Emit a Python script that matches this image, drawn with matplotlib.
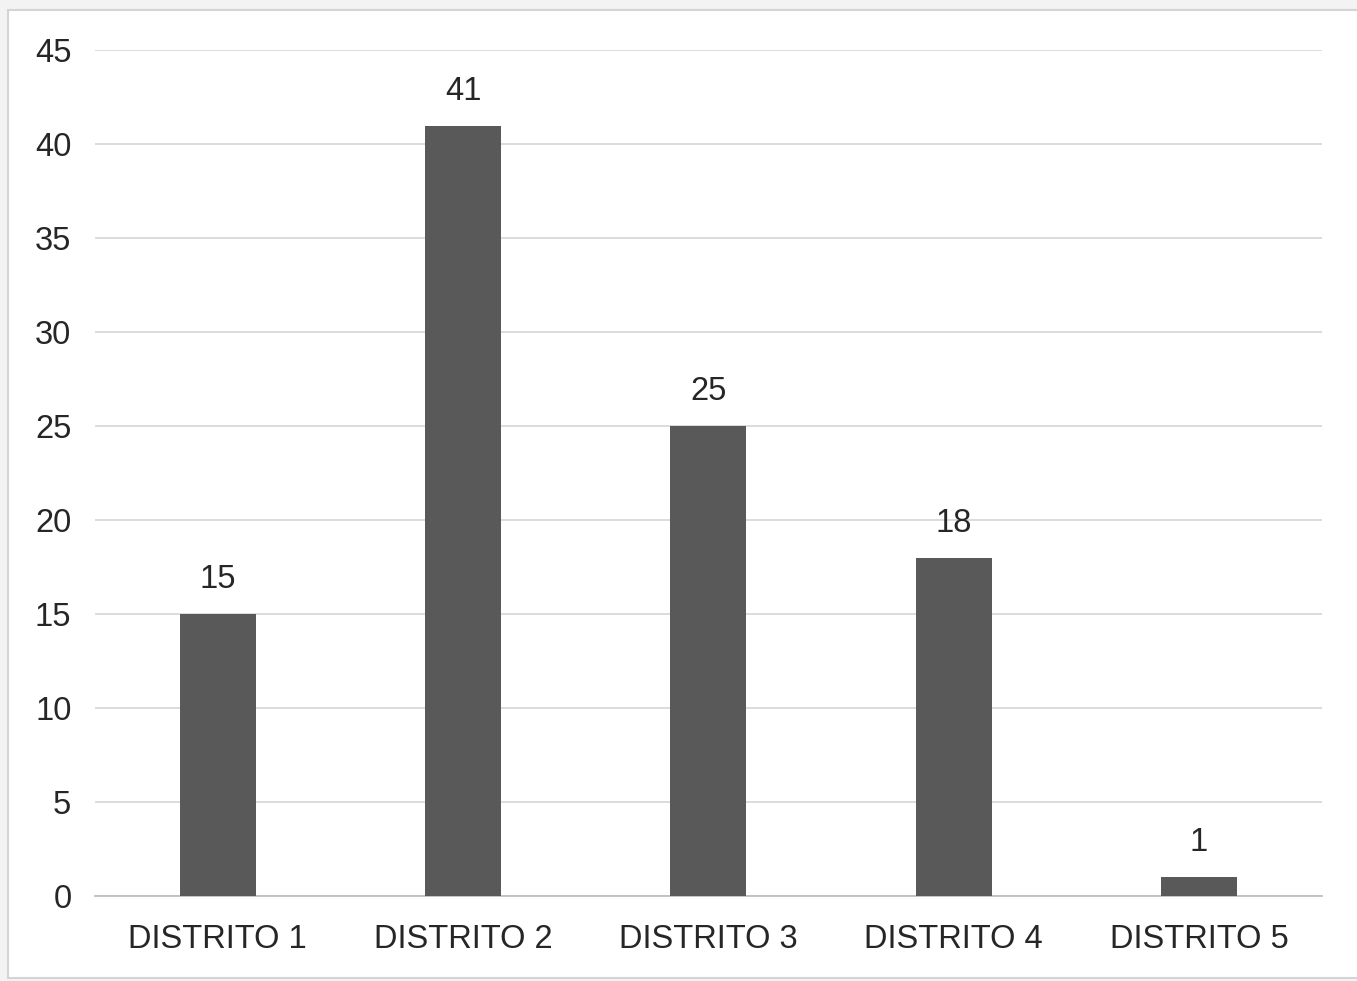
import matplotlib
matplotlib.use("Agg")
import matplotlib.pyplot as plt

distritos = ["DISTRITO 1", "DISTRITO 2", "DISTRITO 3", "DISTRITO 4", "DISTRITO 5"]
valores = [15, 41, 25, 18, 1]
y_ticks = [0, 5, 10, 15, 20, 25, 30, 35, 40, 45]

plt.rcParams['font.family'] = ['Liberation Sans', 'DejaVu Sans']

fig = plt.figure(figsize=(13.57, 9.81), dpi=100, facecolor='#f3f3f3')

# white chart area with thin gray frame (behind the axes)
fig.patches.append(plt.Rectangle((8 / 1357, 3 / 981), 1.0, 968 / 981, transform=fig.transFigure,
                                 facecolor='white', edgecolor='#d4d4d4', linewidth=1.5, zorder=-1))

ax = fig.add_axes([0.070, 0.0866, 0.904, 0.862])
ax.set_facecolor('none')

x = range(len(distritos))
ax.bar(x, valores, width=0.31, color='#595959', zorder=3)
for xi, v in zip(x, valores):
    ax.text(xi, v + 1.0, str(v), ha='center', va='bottom', fontsize=23.5, color='#262626')

ax.set_xlim(-0.5, len(distritos) - 0.5)
ax.set_ylim(0, 45)
ax.set_yticks(y_ticks)
ax.set_xticks(list(x))
ax.set_xticklabels(distritos)
ax.tick_params(axis='both', length=0, labelsize=23.5, labelcolor='#262626')
ax.tick_params(axis='y', pad=17)
ax.tick_params(axis='x', pad=20)
ax.grid(axis='y', color='#d9d9d9', linewidth=1.3, zorder=0)
for side in ['top', 'right', 'left']:
    ax.spines[side].set_visible(False)
ax.spines['bottom'].set_color('#bfbfbf')
ax.spines['bottom'].set_linewidth(1.3)

fig.savefig("out.png", dpi=100, facecolor=fig.get_facecolor())
